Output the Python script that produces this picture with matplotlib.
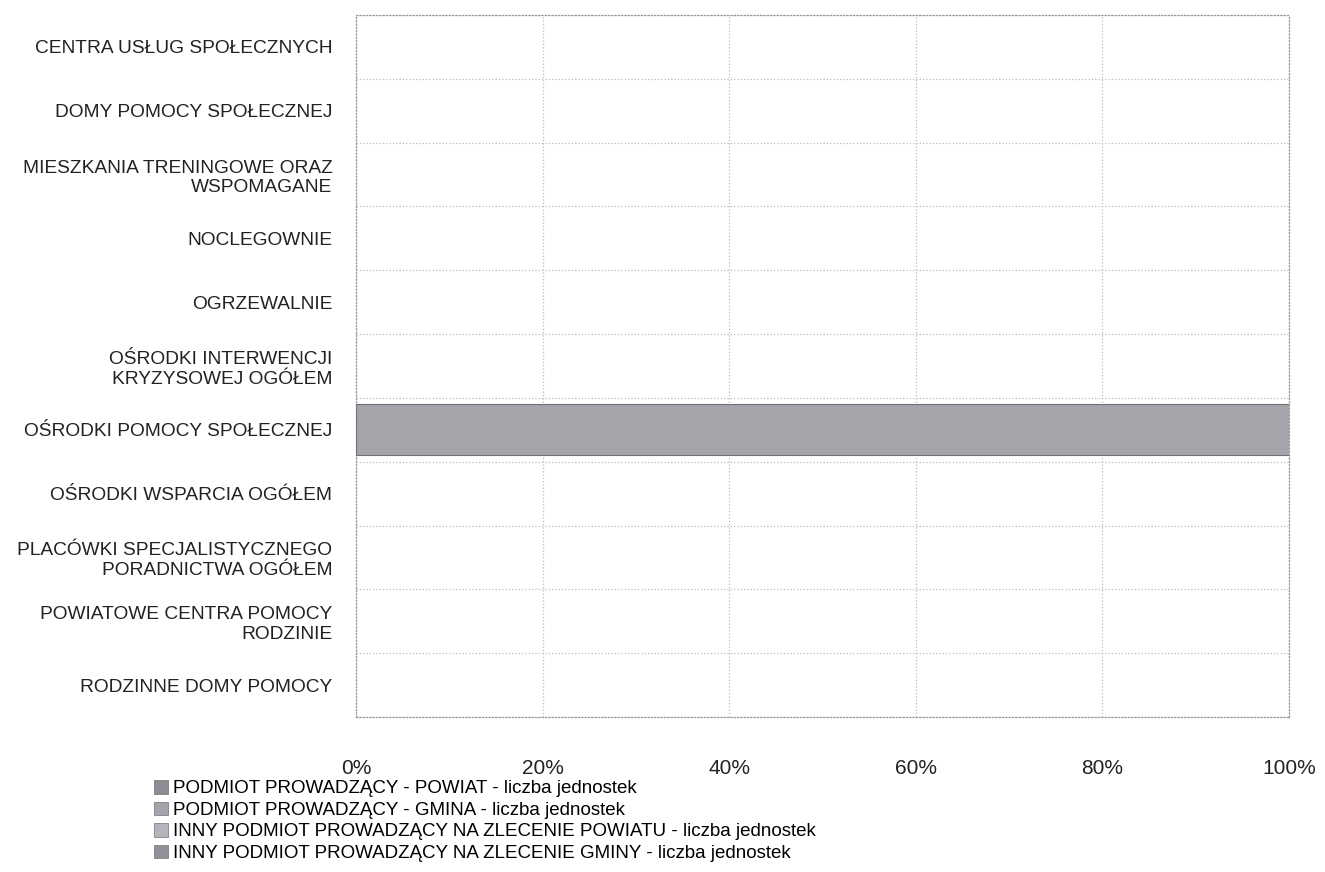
import numpy as np
import matplotlib.pyplot as plt
from matplotlib.patches import Patch

plt.rcParams["font.family"] = ["Liberation Sans", "DejaVu Sans"]

categories = [
    "CENTRA USŁUG SPOŁECZNYCH",
    "DOMY POMOCY SPOŁECZNEJ",
    "MIESZKANIA TRENINGOWE ORAZ\nWSPOMAGANE",
    "NOCLEGOWNIE",
    "OGRZEWALNIE",
    "OŚRODKI INTERWENCJI\nKRYZYSOWEJ OGÓŁEM",
    "OŚRODKI POMOCY SPOŁECZNEJ",
    "OŚRODKI WSPARCIA OGÓŁEM",
    "PLACÓWKI SPECJALISTYCZNEGO\nPORADNICTWA OGÓŁEM",
    "POWIATOWE CENTRA POMOCY\nRODZINIE",
    "RODZINNE DOMY POMOCY",
]
series_names = [
    "PODMIOT PROWADZĄCY - POWIAT - liczba jednostek",
    "PODMIOT PROWADZĄCY - GMINA - liczba jednostek",
    "INNY PODMIOT PROWADZĄCY NA ZLECENIE POWIATU - liczba jednostek",
    "INNY PODMIOT PROWADZĄCY NA ZLECENIE GMINY - liczba jednostek",
]
powiat = [0, 0, 0, 0, 0, 0, 0, 0, 0, 0, 0]
gmina = [0, 0, 0, 0, 0, 0, 1, 0, 0, 0, 0]
inny_powiat = [0, 0, 0, 0, 0, 0, 0, 0, 0, 0, 0]
inny_gmina = [0, 0, 0, 0, 0, 0, 0, 0, 0, 0, 0]
colors = ["#8c8c92", "#a4a4ab", "#b4b4ba", "#909096"]

data = np.array([powiat, gmina, inny_powiat, inny_gmina], dtype=float)
totals = data.sum(axis=0)
totals[totals == 0] = 1
pct = data / totals * 100

fig = plt.figure(figsize=(13.25, 8.72), dpi=100)
ax = fig.add_axes([356 / 1325, 1 - 717 / 872, (1289 - 356) / 1325, (717 - 15) / 872])

y = np.arange(len(categories))
left = np.zeros(len(categories))
for vals, c in zip(pct, colors):
    lw = np.where(vals > 0, 0.8, 0.0)
    ax.barh(y, vals, left=left, height=0.8, color=c, edgecolor="#707078", linewidth=lw, zorder=3)
    left += vals

ax.set_ylim(len(categories) - 0.5, -0.5)
ax.set_xlim(0, 100)
ax.set_yticks(y)
ax.set_yticklabels(categories, fontsize=13.8, color="#222222")
ax.set_yticks(np.arange(len(categories) + 1) - 0.5, minor=True)
ax.set_xticks(np.arange(0, 101, 20))
ax.set_xticklabels([f"{v}%" for v in range(0, 101, 20)], fontsize=15, color="#222222")
ax.tick_params(axis="both", which="both", length=0)
ax.tick_params(axis="x", pad=30.5)
ax.tick_params(axis="y", pad=17)
ax.grid(axis="x", which="major", color="#bbbbbb", linestyle=":", linewidth=0.9, zorder=0)
ax.grid(axis="y", which="minor", color="#bbbbbb", linestyle=":", linewidth=0.9, zorder=0)
for s in ["top", "right", "left", "bottom"]:
    ax.spines[s].set_color("#999999")
    ax.spines[s].set_linestyle(":")
    ax.spines[s].set_linewidth(0.9)

handles = [Patch(facecolor=c, edgecolor="#707078", linewidth=0.5) for c in colors]
fig.legend(handles, series_names, loc="upper left", bbox_to_anchor=(154 / 1325, 1 - 780 / 872),
           frameon=False, fontsize=13.5, handlelength=0.75, handleheight=0.75, handletextpad=0.25,
           labelspacing=0.22, borderpad=0, borderaxespad=0)

fig.savefig("out.png", dpi=100)
